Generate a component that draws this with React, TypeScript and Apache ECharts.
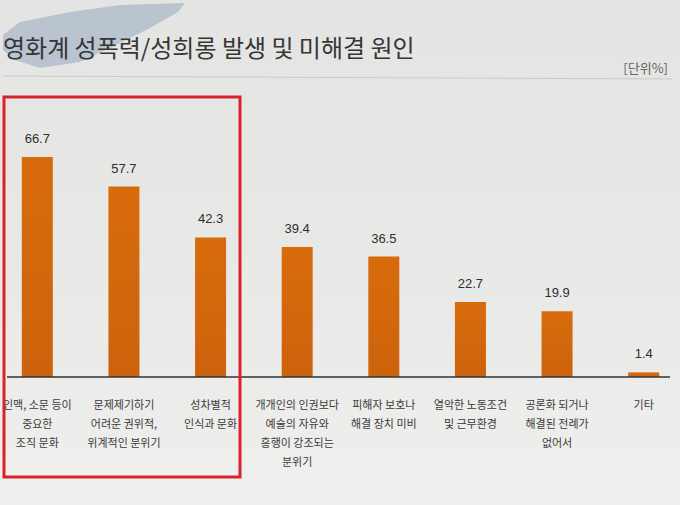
import React, { useEffect, useRef } from "react";
import * as echarts from "echarts";

const TITLE = "영화계 성폭력/성희롱 발생 및 미해결 원인";
const UNIT = "[단위%]";
const categories = [
  "인맥, 소문 등이\n중요한\n조직 문화",
  "문제제기하기\n어려운 권위적,\n위계적인 분위기",
  "성차별적\n인식과 문화",
  "개개인의 인권보다\n예술의 자유와\n흥행이 강조되는\n분위기",
  "피해자 보호나\n해결 장치 미비",
  "열악한 노동조건\n및 근무환경",
  "공론화 되거나\n해결된 전례가\n없어서",
  "기타",
];
const values = [66.7, 57.7, 42.3, 39.4, 36.5, 22.7, 19.9, 1.4];

const KR = '"Noto Sans CJK KR", "Noto Sans", sans-serif';
const NUM = '"Liberation Sans Narrow", "Liberation Sans", sans-serif';

export default function App() {
  const ref = useRef<HTMLDivElement>(null);
  useEffect(() => {
    document.body.style.margin = "0";
    if (!ref.current) return;
    const chart = echarts.init(ref.current, null, { renderer: "svg" });
    chart.setOption({
      animation: false,
      backgroundColor: {
        type: "linear",
        x: 0,
        y: 0,
        x2: 0,
        y2: 1,
        colorStops: [
          { offset: 0, color: "#e4e4e2" },
          { offset: 0.5, color: "#e8e8e6" },
          { offset: 1, color: "#efefed" },
        ],
      },
      grid: { left: -6, right: -7, top: 47, bottom: 128, outerBoundsMode: "none" },
      xAxis: {
        type: "category",
        data: categories,
        axisLine: { show: false },
        axisTick: { show: false },
        axisLabel: {
          interval: 0,
          margin: 17,
          fontSize: 11,
          lineHeight: 19,
          color: "#3a3a3a",
          fontFamily: KR,
        },
      },
      yAxis: { type: "value", min: 0, max: 100, show: false, splitLine: { show: false } },
      series: [
        {
          type: "bar",
          data: values,
          barWidth: 31,
          itemStyle: {
            color: {
              type: "linear",
              x: 0,
              y: 0,
              x2: 0,
              y2: 1,
              colorStops: [
                { offset: 0, color: "#d86c0c" },
                { offset: 1, color: "#cc620c" },
              ],
            },
          },
          label: {
            show: true,
            position: "top",
            distance: 12,
            fontSize: 13,
            color: "#2f2f2f",
            fontFamily: NUM,
          },
        },
      ],
      graphic: [
        {
          type: "polygon",
          z: 1,
          shape: {
            points: [
              [3, 35], [20, 22], [70, 12], [120, 5], [185, 3], [178, 12],
              [150, 28], [110, 48], [80, 62], [40, 68], [15, 60], [3, 50],
            ],
          },
          style: { fill: "#aebccA", opacity: 0.8 },
        },
        {
          type: "text",
          z: 5,
          x: 3,
          y: 46,
          style: {
            text: TITLE,
            font: `24px ${KR}`,
            fill: "#363636",
            textVerticalAlign: "middle",
          },
        },
        {
          type: "text",
          z: 5,
          x: 668,
          y: 67,
          style: {
            text: UNIT,
            font: `13px ${KR}`,
            fill: "#666",
            textAlign: "right",
            textVerticalAlign: "middle",
          },
        },
        {
          type: "line",
          z: 3,
          shape: { x1: 3, y1: 76, x2: 672, y2: 79 },
          style: { stroke: "#c9c9c7", lineWidth: 1 },
        },
        {
          type: "line",
          z: 3,
          shape: { x1: 7, y1: 377, x2: 670, y2: 377 },
          style: { stroke: "#333", lineWidth: 1.5 },
        },
        {
          type: "rect",
          z: 4,
          shape: { x: 4, y: 97, width: 236, height: 380 },
          style: { fill: "transparent", stroke: "#d8232a", lineWidth: 3 },
        },
      ],
    });
    return () => chart.dispose();
  }, []);
  return <div ref={ref} style={{ width: 680, height: 505 }} />;
}
